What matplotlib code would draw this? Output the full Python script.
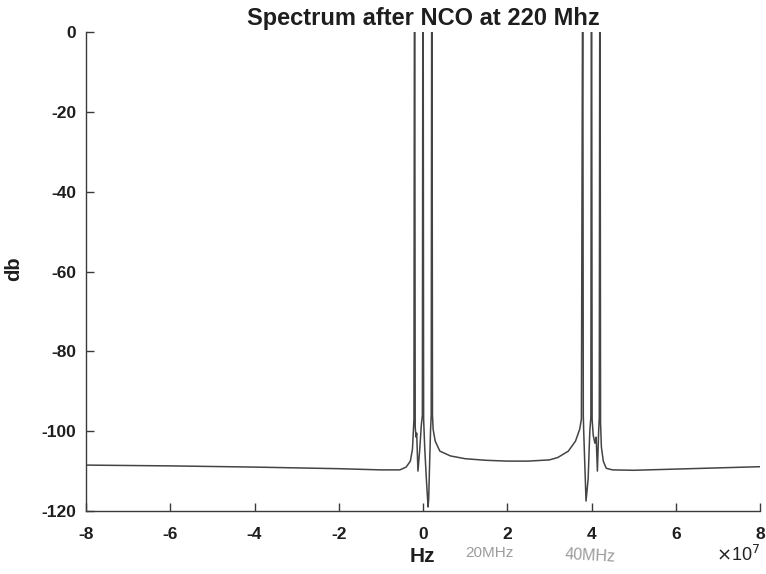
import numpy as np
import matplotlib
matplotlib.use("Agg")
import matplotlib.pyplot as plt
from matplotlib.ticker import ScalarFormatter

plt.rcParams['font.family'] = ['Liberation Sans', 'DejaVu Sans']
plt.rcParams['axes.unicode_minus'] = False

# traced spectrum, frequency in units of 1e7 Hz, level in dB
freq_e7 = [
    -8.0, -6.0, -4.0, -2.0, -1.0, -0.55, -0.40, -0.30, -0.25,
    -0.215, -0.205, -0.195, -0.185, -0.165, -0.15, -0.12, -0.08, -0.04, -0.015,
    -0.005, 0.005, 0.015, 0.04, 0.08, 0.12, 0.135, 0.16, 0.18, 0.195,
    0.205, 0.215, 0.225, 0.24, 0.29, 0.40, 0.65, 1.0, 1.5, 2.0,
    2.5, 3.0, 3.2, 3.45, 3.62, 3.72, 3.76,
    3.785, 3.795, 3.805, 3.815, 3.84, 3.87, 3.92, 3.96, 3.985,
    3.995, 4.005, 4.015, 4.04, 4.08, 4.11, 4.14, 4.17, 4.185,
    4.195, 4.205, 4.215, 4.235, 4.28, 4.35, 4.5, 5.0, 6.0, 7.0, 8.0,
]
level_db = [
    -108.5, -108.7, -109.0, -109.4, -109.7, -109.7, -109.0, -107.5, -104.5,
    -97.0, 0.0, 0.0, -99.0, -101.5, -100.5, -110.0, -105.0, -98.5, -96.0,
    0.0, 0.0, -97.0, -104.0, -112.0, -119.0, -117.0, -107.0, -99.5, -96.0,
    0.0, 0.0, -96.0, -99.5, -102.5, -105.0, -106.2, -106.9, -107.3, -107.5,
    -107.5, -107.2, -106.6, -105.0, -102.5, -99.5, -97.0,
    0.0, 0.0, -96.0, -100.0, -108.0, -117.5, -112.0, -100.0, -96.5,
    0.0, 0.0, -97.0, -101.0, -103.0, -101.5, -110.0, -100.0, -96.5,
    0.0, 0.0, -98.0, -104.0, -107.5, -109.3, -109.7, -109.8, -109.5, -109.2, -108.9,
]

title = 'Spectrum after NCO at 220 Mhz'
x_ticks = [-8, -6, -4, -2, 0, 2, 4, 6, 8]
y_ticks = [-120, -100, -80, -60, -40, -20, 0]

freq_hz = np.array(freq_e7) * 1e7

fig = plt.figure(figsize=(7.66, 5.74), dpi=100)
ax = fig.add_axes([86 / 766, 1 - 511 / 574, 674 / 766, 479 / 574])

ax.plot(freq_hz, level_db, color='#444444', linewidth=1.1)

ax.set_xlim(-8e7, 8e7)
ax.set_ylim(-120, 0)
ax.set_xticks(np.array(x_ticks) * 1e7)
ax.set_yticks(y_ticks)

fmt = ScalarFormatter(useMathText=False)
fmt.set_powerlimits((0, 0))
ax.xaxis.set_major_formatter(fmt)
ax.xaxis.get_offset_text().set_visible(False)
ax.text(1.0, -0.092, r'$\times$10$^{7}$', transform=ax.transAxes,
        ha='right', va='center', fontsize=13, color='#222222')

for s in ['top', 'right']:
    ax.spines[s].set_visible(False)
for s in ['left', 'bottom']:
    ax.spines[s].set_color('#3a3a3a')
    ax.spines[s].set_linewidth(1.0)

ax.tick_params(direction='in', length=6, width=1, colors='#3a3a3a',
               labelcolor='#1e1e1e', labelsize=12.5)
ax.tick_params(axis='x', pad=11.5)
ax.tick_params(axis='y', pad=7)
for lbl in ax.get_xticklabels() + ax.get_yticklabels():
    lbl.set_fontweight('bold')

ax.set_title(title, fontsize=17, fontweight='bold', color='#1e1e1e', pad=5)
ax.set_xlabel('Hz', fontsize=15, fontweight='bold', color='#1e1e1e')
ax.set_ylabel('db', fontsize=14.5, fontweight='bold', color='#1e1e1e')
ax.xaxis.set_label_coords(0.4985, -0.075)
ax.yaxis.set_label_coords(-0.093, 0.505)

# handwritten notes on the print
ax.text(0.599, -0.088, '20MHz', transform=ax.transAxes, ha='center', va='center',
        fontsize=11, color='#9c9c9c')
ax.text(0.748, -0.093, '40MHz', transform=ax.transAxes, ha='center', va='center',
        fontsize=11.5, color='#9c9c9c', rotation=-3)

fig.savefig('out.png', dpi=100)
